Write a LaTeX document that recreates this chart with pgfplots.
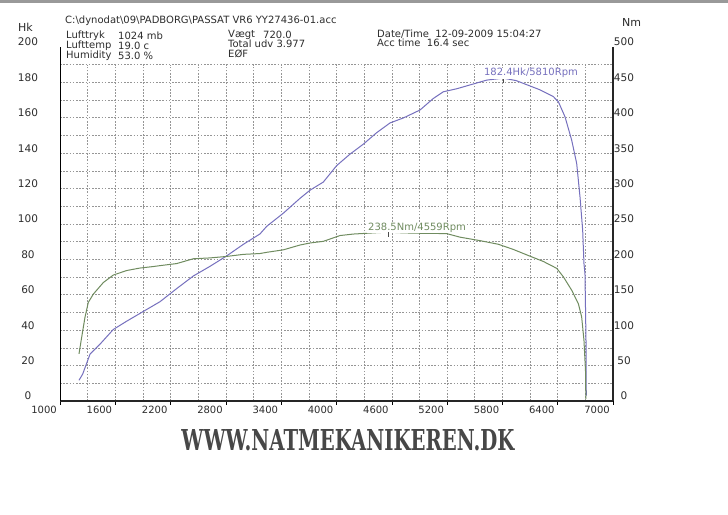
\documentclass[border=0pt]{standalone}
\usepackage{fontspec}
\setmainfont{DejaVu Sans}
\newfontfamily\slab{DejaVu Serif}
\usepackage{graphicx}
\usepackage{pgfplots}
\pgfplotsset{compat=1.18}
\definecolor{pw}{RGB}{118,112,190}
\definecolor{tq}{RGB}{112,140,96}
\definecolor{gridc}{RGB}{150,150,150}
\definecolor{txt}{RGB}{45,45,45}

\pgfplotstableread{
rpm hk
1206 11.7
1246 15.2
1326 26.5
1434 32.1
1578 40.4
1724 45.1
1904 50.6
2085 56.1
2266 63.5
2446 70.6
2628 76.1
2809 82.0
2989 88.5
3170 94.4
3243 98.7
3423 106.1
3604 114.5
3713 119.1
3857 123.7
4002 133.0
4147 139.5
4291 145.1
4436 151.6
4581 157.1
4725 159.9
4906 164.4
5050 170.9
5159 174.7
5304 176.4
5484 179.1
5630 181.3
5810 182.4
5950 181.0
6064 178.7
6208 175.8
6352 172.0
6407 169.1
6479 160.6
6552 147.3
6606 134.2
6642 115.3
6671 96.4
6685 77.6
6696 72.0
6707 34.3
6710 3
}\powertab

\pgfplotstableread{
rpm nm
1206 66.5
1235 89.9
1271 118.2
1307 139.2
1361 150.9
1470 167.3
1578 177.9
1724 184.3
1868 187.8
2012 189.9
2085 191.2
2266 194.1
2446 200.9
2628 202.1
2809 204.2
2989 207.1
3170 208.3
3243 210.0
3423 213.5
3604 220.3
3713 223.2
3857 225.5
4038 233.7
4182 235.8
4328 236.9
4450 237.8
4559 238.5
4700 237.6
4850 237.0
5000 236.8
5196 236.4
5340 231.4
5557 226.5
5755 221.4
5918 214.1
6100 204.5
6244 197.1
6389 187.4
6461 175.5
6552 156.4
6624 137.5
6660 118.7
6685 85.7
6703 38.6
6705 3
}\torquetab

\begin{document}
\begin{tikzpicture}[x=1pt,y=1pt]
\useasboundingbox (0,0) rectangle (728,514);
\fill[white] (0,0) rectangle (728,514);
\fill[black!40] (0,511) rectangle (728,514);

% header texts
\begin{scope}[every node/.style={inner sep=0pt, text=txt, font=\fontsize{10}{10}\selectfont}]
\node[anchor=west] at (18,487) {\fontsize{11}{11}\selectfont Hk};
\node[anchor=west] at (622,492) {\fontsize{11}{11}\selectfont Nm};
\node[anchor=west] at (65,493) {C:\textbackslash dynodat\textbackslash 09\textbackslash PADBORG\textbackslash PASSAT VR6 YY27436-01.acc};
\node[anchor=west] at (66,478) {Lufttryk};
\node[anchor=west] at (118,478) {1024 mb};
\node[anchor=west] at (66,468) {Lufttemp};
\node[anchor=west] at (118,468) {19.0 c};
\node[anchor=west] at (66,458) {Humidity};
\node[anchor=west] at (118,458) {53.0 \%};
\node[anchor=west] at (228,479) {Vægt};
\node[anchor=west] at (263,479) {720.0};
\node[anchor=west] at (228,470) {Total udv 3.977};
\node[anchor=west] at (228,460) {EØF};
\node[anchor=west] at (377,480) {Date/Time\ \ 12-09-2009 15:04:27};
\node[anchor=west] at (377,471) {Acc time\ \ 16.4 sec};
\end{scope}

% grid
\begin{axis}[at={(60pt,113pt)}, anchor=south west, scale only axis,
  width=553pt, height=336.3pt,
  xmin=1000, xmax=7000, ymin=0, ymax=190,
  xtick={1300,1600,...,6700}, ytick={10,20,...,190},
  xticklabels={}, yticklabels={}, major tick length=0pt,
  axis line style={draw=none}, grid=major,
  major grid style={gridc, line width=0.6pt, dash pattern=on 1.6pt off 1.6pt}]
\addplot[draw=none] coordinates {(1000,0)};
\end{axis}

% power axis (left)
\begin{axis}[at={(60pt,113pt)}, anchor=south west, scale only axis,
  width=553pt, height=354pt,
  xmin=1000, xmax=7000, ymin=0, ymax=200,
  axis x line*=bottom, axis y line*=left,
  xtick={1000,1600,...,7000}, ytick={0,20,...,200},
  /pgf/number format/assume math mode=true,
  /pgf/number format/1000 sep={},
  tick align=outside, major tick length=4pt,
  xtick style={black, line width=0.6pt},
  ytick style={draw=none},
  x tick label style={font=\fontsize{10}{10}\selectfont, text=txt, anchor=north east, inner sep=0pt, xshift=-3pt, yshift=-1pt},
  y tick label style={font=\fontsize{10.5}{10.5}\selectfont, text=txt, anchor=center, inner sep=0pt, xshift=-28pt, yshift=5pt},
  x axis line style={black!85, line width=1.6pt, -},
  y axis line style={black, line width=1pt, -},
  clip=false]
\addplot[pw, line width=1pt] table[x=rpm, y=hk] {\powertab};
\node[fill=white, inner sep=0.8pt, text=pw, font=\fontsize{10}{10}\selectfont] at (axis cs:6110,185.2) {182.4Hk/5810Rpm};
\addplot[black!70, line width=0.7pt] coordinates {(5810,179.5) (5810,182.2)};
\end{axis}

% torque axis (right)
\begin{axis}[at={(60pt,113pt)}, anchor=south west, scale only axis,
  width=553pt, height=354pt,
  xmin=1000, xmax=7000, ymin=0, ymax=500,
  axis y line*=right, axis x line=none,
  ytick={0,50,...,500},
  /pgf/number format/assume math mode=true,
  ytick style={draw=none},
  y tick label style={font=\fontsize{10.5}{10.5}\selectfont, text=txt, anchor=center, inner sep=0pt, xshift=11pt, yshift=5pt},
  y axis line style={black!85, line width=1.6pt, -},
  clip=false]
\addplot[tq, line width=1pt] table[x=rpm, y=nm] {\torquetab};
\node[fill=white, inner sep=0.8pt, text=tq, font=\fontsize{10}{10}\selectfont] at (axis cs:4874,245) {238.5Nm/4559Rpm};
\addplot[black!70, line width=0.7pt] coordinates {(4559,232) (4559,238)};
\end{axis}

% footer
\node[text=black!72, inner sep=0pt] at (348,74) {\resizebox{333pt}{21pt}{\slab\bfseries WWW.NATMEKANIKEREN.DK}};
\end{tikzpicture}
\end{document}
